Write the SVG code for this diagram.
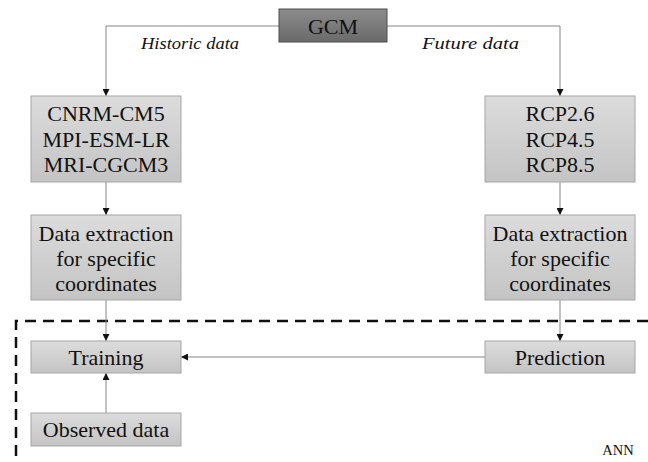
<svg xmlns="http://www.w3.org/2000/svg" width="648" height="462" viewBox="0 0 648 462" font-family="Liberation Serif">
  <defs>
    <linearGradient id="boxFill" x1="0" y1="0" x2="0" y2="1">
      <stop offset="0" stop-color="#dcdcdc"/>
      <stop offset="1" stop-color="#c4c4c4"/>
    </linearGradient>
    <linearGradient id="darkFill" x1="0" y1="0" x2="0" y2="1">
      <stop offset="0" stop-color="#8c8c8c"/>
      <stop offset="1" stop-color="#6a6a6a"/>
    </linearGradient>
    <marker id="arrow" viewBox="0 0 8 8" refX="8" refY="4" markerWidth="7" markerHeight="7" markerUnits="userSpaceOnUse" orient="auto">
      <path d="M0,0 L8,4 L0,8 Z" fill="#111"/>
    </marker>
    <style>
      .box { fill: url(#boxFill); stroke: #a6a6a6; stroke-width: 1; }
      .dark { fill: url(#darkFill); stroke: #4d4d4d; stroke-width: 1; }
      .lbl { font-size: 22px; fill: #111; text-anchor: middle; }
      .ital { font-size: 17px; font-style: italic; fill: #111; text-anchor: middle; }
      .conn { fill: none; stroke: #858585; stroke-width: 1; }
      .arr { marker-end: url(#arrow); }
      .dash { fill: none; stroke: #111; stroke-width: 2.5; stroke-dasharray: 11 7; }
    </style>
  </defs>

  <!-- ANN boundary -->
  <g id="ann-boundary">
    <path class="dash" d="M648,321 L16,321 L16,462"/>
    <text x="618" y="455" font-family="Liberation Serif" font-size="14.5" fill="#111" text-anchor="middle">ANN</text>
  </g>

  <!-- connectors -->
  <g id="connectors">
    <path class="conn arr" d="M279,26 L106,26 L106,96"/>
    <path class="conn arr" d="M387,26 L560,26 L560,96"/>
    <path class="conn arr" d="M106,182 L106,215"/>
    <path class="conn arr" d="M560,182 L560,215"/>
    <path class="conn arr" d="M106,300 L106,341"/>
    <path class="conn arr" d="M560,300 L560,341"/>
    <path class="conn arr" d="M485,357 L181,357"/>
    <path class="conn arr" d="M106,413 L106,373"/>
    <text class="ital" font-family="Liberation Serif" x="190" y="48.5" textLength="98" lengthAdjust="spacingAndGlyphs">Historic data</text>
    <text class="ital" font-family="Liberation Serif" x="470.5" y="48.5" textLength="97" lengthAdjust="spacingAndGlyphs">Future data</text>
  </g>

  <g id="gcm" font-family="Liberation Serif">
    <rect class="dark" x="279" y="9" width="108" height="33"/>
    <text class="lbl" x="333" y="33.5" font-size="21.5">GCM</text>
  </g>

  <g id="historic-models" font-family="Liberation Serif">
    <rect class="box" x="31" y="96" width="150" height="86"/>
    <text class="lbl" x="106" y="121">CNRM-CM5</text>
    <text class="lbl" x="106" y="146.5">MPI-ESM-LR</text>
    <text class="lbl" x="106" y="172">MRI-CGCM3</text>
  </g>

  <g id="future-scenarios" font-family="Liberation Serif">
    <rect class="box" x="485" y="96" width="150" height="86"/>
    <text class="lbl" x="560" y="121">RCP2.6</text>
    <text class="lbl" x="560" y="146.5">RCP4.5</text>
    <text class="lbl" x="560" y="172">RCP8.5</text>
  </g>

  <g id="extraction-historic" font-family="Liberation Serif">
    <rect class="box" x="31" y="215" width="150" height="85"/>
    <text class="lbl" x="106" y="241">Data extraction</text>
    <text class="lbl" x="106" y="266">for specific</text>
    <text class="lbl" x="106" y="291">coordinates</text>
  </g>

  <g id="extraction-future" font-family="Liberation Serif">
    <rect class="box" x="485" y="215" width="150" height="85"/>
    <text class="lbl" x="560" y="241">Data extraction</text>
    <text class="lbl" x="560" y="266">for specific</text>
    <text class="lbl" x="560" y="291">coordinates</text>
  </g>

  <g id="training" font-family="Liberation Serif">
    <rect class="box" x="31" y="341" width="150" height="32"/>
    <text class="lbl" x="106" y="365" font-size="21.5">Training</text>
  </g>

  <g id="prediction" font-family="Liberation Serif">
    <rect class="box" x="485" y="341" width="150" height="32"/>
    <text class="lbl" x="560" y="364.5">Prediction</text>
  </g>

  <g id="observed" font-family="Liberation Serif">
    <rect class="box" x="31" y="413" width="150" height="33"/>
    <text class="lbl" x="106" y="437">Observed data</text>
  </g>
</svg>
